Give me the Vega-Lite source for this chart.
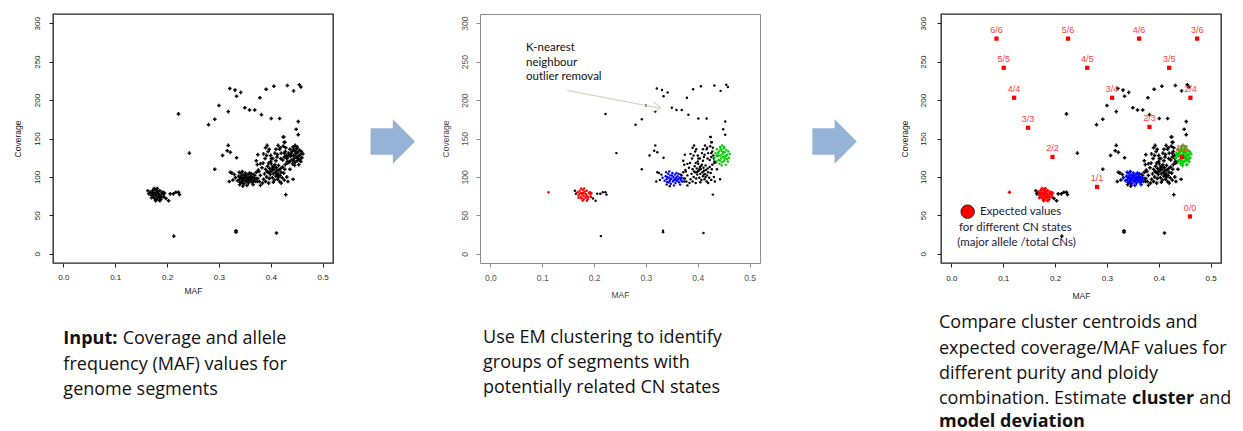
{
"$schema":"https://vega.github.io/schema/vega-lite/v6.json",
"padding":{"left":12,"top":13,"right":0,"bottom":0},
"autosize":{"type":"pad"},
"background":"white",
"spacing":0,
"bounds":"flush",
"config":{"view":{"stroke":null},"axis":{"grid":false,"domain":false,"labelFont":"Liberation Sans","titleFont":"Liberation Sans","titleFontWeight":"normal","labelFlush":false}},
"datasets":{
"pts":[
{"maf":0.168,"cov":80,"cl":"r"},{"maf":0.172,"cov":82,"cl":"r"},{"maf":0.175,"cov":79,"cl":"r"},{"maf":0.178,"cov":83,"cl":"r"},{"maf":0.182,"cov":81,"cl":"r"},{"maf":0.186,"cov":82,"cl":"r"},{"maf":0.19,"cov":79,"cl":"r"},{"maf":0.193,"cov":77,"cl":"r"},{"maf":0.17,"cov":76,"cl":"r"},{"maf":0.174,"cov":74,"cl":"r"},{"maf":0.177,"cov":77,"cl":"r"},{"maf":0.18,"cov":75,"cl":"r"},{"maf":0.183,"cov":78,"cl":"r"},{"maf":0.186,"cov":75,"cl":"r"},{"maf":0.189,"cov":74,"cl":"r"},{"maf":0.192,"cov":80,"cl":"r"},{"maf":0.176,"cov":72,"cl":"r"},{"maf":0.18,"cov":71,"cl":"r"},{"maf":0.184,"cov":73,"cl":"r"},{"maf":0.188,"cov":71,"cl":"r"},{"maf":0.172,"cov":78,"cl":"r"},{"maf":0.179,"cov":79,"cl":"r"},{"maf":0.185,"cov":77,"cl":"r"},{"maf":0.181,"cov":85,"cl":"r"},{"maf":0.175,"cov":85,"cl":"r"},{"maf":0.194,"cov":74,"cl":"r"},{"maf":0.178,"cov":69,"cl":"r"},{"maf":0.186,"cov":69,"cl":"r"},{"maf":0.17,"cov":73,"cl":"r"},{"maf":0.195,"cov":79,"cl":"r"},{"maf":0.112,"cov":80,"cl":"r","p1":0},
{"maf":0.163,"cov":82,"cl":"k"},{"maf":0.165,"cov":78,"cl":"k"},{"maf":0.198,"cov":72,"cl":"k"},{"maf":0.203,"cov":69,"cl":"k"},{"maf":0.206,"cov":78,"cl":"k"},{"maf":0.212,"cov":78,"cl":"k"},{"maf":0.217,"cov":80,"cl":"k"},{"maf":0.222,"cov":80,"cl":"k"},{"maf":0.224,"cov":77,"cl":"k"},{"maf":0.213,"cov":23,"cl":"k"},
{"maf":0.336,"cov":95,"cl":"b"},{"maf":0.338,"cov":101,"cl":"b"},{"maf":0.34,"cov":97,"cl":"b"},{"maf":0.341,"cov":93,"cl":"b"},{"maf":0.343,"cov":104,"cl":"b"},{"maf":0.344,"cov":99,"cl":"b"},{"maf":0.346,"cov":95,"cl":"b"},{"maf":0.347,"cov":102,"cl":"b"},{"maf":0.348,"cov":91,"cl":"b"},{"maf":0.349,"cov":98,"cl":"b"},{"maf":0.351,"cov":105,"cl":"b"},{"maf":0.352,"cov":94,"cl":"b"},{"maf":0.353,"cov":100,"cl":"b"},{"maf":0.355,"cov":97,"cl":"b"},{"maf":0.356,"cov":103,"cl":"b"},{"maf":0.357,"cov":92,"cl":"b"},{"maf":0.358,"cov":99,"cl":"b"},{"maf":0.36,"cov":95,"cl":"b"},{"maf":0.361,"cov":101,"cl":"b"},{"maf":0.362,"cov":97,"cl":"b"},{"maf":0.364,"cov":93,"cl":"b"},{"maf":0.365,"cov":99,"cl":"b"},{"maf":0.367,"cov":96,"cl":"b"},{"maf":0.369,"cov":102,"cl":"b"},{"maf":0.37,"cov":94,"cl":"b"},{"maf":0.345,"cov":107,"cl":"b"},{"maf":0.354,"cov":89,"cl":"b"},{"maf":0.339,"cov":106,"cl":"b"},{"maf":0.359,"cov":105,"cl":"b"},{"maf":0.366,"cov":90,"cl":"b"},{"maf":0.332,"cov":99,"cl":"b"},{"maf":0.372,"cov":98,"cl":"b"},{"maf":0.35,"cov":102,"cl":"b"},{"maf":0.347,"cov":97,"cl":"b"},{"maf":0.357,"cov":96,"cl":"b"},{"maf":0.344,"cov":93,"cl":"b"},{"maf":0.363,"cov":104,"cl":"b"},{"maf":0.353,"cov":95,"cl":"b"},{"maf":0.341,"cov":100,"cl":"b"},{"maf":0.368,"cov":99,"cl":"b"},
{"maf":0.322,"cov":106,"cl":"k"},{"maf":0.325,"cov":105,"cl":"k"},{"maf":0.32,"cov":94,"cl":"k"},{"maf":0.327,"cov":96,"cl":"k"},{"maf":0.33,"cov":103,"cl":"k"},{"maf":0.375,"cov":98,"cl":"k"},{"maf":0.378,"cov":94,"cl":"k"},{"maf":0.372,"cov":106,"cl":"k"},{"maf":0.34,"cov":90,"cl":"k"},{"maf":0.346,"cov":88,"cl":"k"},{"maf":0.38,"cov":102,"cl":"k"},{"maf":0.376,"cov":109,"cl":"k"},
{"maf":0.388,"cov":104,"cl":"k"},{"maf":0.39,"cov":110,"cl":"k"},{"maf":0.392,"cov":100,"cl":"k"},{"maf":0.394,"cov":114,"cl":"k"},{"maf":0.395,"cov":106,"cl":"k"},{"maf":0.397,"cov":98,"cl":"k"},{"maf":0.398,"cov":111,"cl":"k"},{"maf":0.399,"cov":103,"cl":"k"},{"maf":0.401,"cov":117,"cl":"k"},{"maf":0.402,"cov":108,"cl":"k"},{"maf":0.403,"cov":99,"cl":"k"},{"maf":0.404,"cov":113,"cl":"k"},{"maf":0.405,"cov":104,"cl":"k"},{"maf":0.406,"cov":110,"cl":"k"},{"maf":0.407,"cov":96,"cl":"k"},{"maf":0.408,"cov":116,"cl":"k"},{"maf":0.409,"cov":106,"cl":"k"},{"maf":0.41,"cov":101,"cl":"k"},{"maf":0.411,"cov":112,"cl":"k"},{"maf":0.412,"cov":108,"cl":"k"},{"maf":0.413,"cov":97,"cl":"k"},{"maf":0.414,"cov":104,"cl":"k"},{"maf":0.415,"cov":115,"cl":"k"},{"maf":0.416,"cov":109,"cl":"k"},{"maf":0.418,"cov":102,"cl":"k"},{"maf":0.419,"cov":111,"cl":"k"},{"maf":0.42,"cov":106,"cl":"k"},{"maf":0.422,"cov":99,"cl":"k"},{"maf":0.423,"cov":113,"cl":"k"},{"maf":0.425,"cov":105,"cl":"k"},{"maf":0.4,"cov":120,"cl":"k"},{"maf":0.41,"cov":121,"cl":"k"},{"maf":0.396,"cov":118,"cl":"k"},{"maf":0.386,"cov":97,"cl":"k"},{"maf":0.427,"cov":110,"cl":"k"},{"maf":0.393,"cov":107,"cl":"k"},{"maf":0.417,"cov":94,"cl":"k"},{"maf":0.405,"cov":93,"cl":"k"},{"maf":0.4,"cov":107,"cl":"k"},{"maf":0.412,"cov":103,"cl":"k"},{"maf":0.406,"cov":114,"cl":"k"},{"maf":0.398,"cov":106,"cl":"k"},{"maf":0.415,"cov":100,"cl":"k"},{"maf":0.403,"cov":110,"cl":"k"},
{"maf":0.383,"cov":112,"cl":"k"},{"maf":0.385,"cov":118,"cl":"k"},{"maf":0.389,"cov":124,"cl":"k"},{"maf":0.392,"cov":128,"cl":"k"},{"maf":0.395,"cov":133,"cl":"k"},{"maf":0.39,"cov":138,"cl":"k"},{"maf":0.393,"cov":141,"cl":"k"},{"maf":0.397,"cov":136,"cl":"k"},{"maf":0.4,"cov":128,"cl":"k"},{"maf":0.404,"cov":124,"cl":"k"},{"maf":0.408,"cov":131,"cl":"k"},{"maf":0.412,"cov":126,"cl":"k"},{"maf":0.414,"cov":141,"cl":"k"},{"maf":0.417,"cov":136,"cl":"k"},{"maf":0.42,"cov":131,"cl":"k"},{"maf":0.423,"cov":122,"cl":"k"},{"maf":0.426,"cov":126,"cl":"k"},{"maf":0.428,"cov":133,"cl":"k"},{"maf":0.43,"cov":128,"cl":"k"},{"maf":0.432,"cov":118,"cl":"k"},{"maf":0.428,"cov":116,"cl":"k"},{"maf":0.431,"cov":100,"cl":"k"},{"maf":0.433,"cov":94,"cl":"k"},{"maf":0.426,"cov":96,"cl":"k"},{"maf":0.384,"cov":92,"cl":"k"},{"maf":0.38,"cov":89,"cl":"k"},{"maf":0.396,"cov":92,"cl":"k"},{"maf":0.42,"cov":92,"cl":"k"},{"maf":0.437,"cov":110,"cl":"k"},{"maf":0.38,"cov":117,"cl":"k"},{"maf":0.375,"cov":129,"cl":"k"},{"maf":0.372,"cov":121,"cl":"k"},{"maf":0.386,"cov":130,"cl":"k"},{"maf":0.41,"cov":136,"cl":"k"},{"maf":0.424,"cov":140,"cl":"k"},{"maf":0.427,"cov":145,"cl":"k"},{"maf":0.425,"cov":152,"cl":"k"},{"maf":0.418,"cov":138,"cl":"k"},{"maf":0.429,"cov":138,"cl":"k"},{"maf":0.431,"cov":124,"cl":"k"},{"maf":0.435,"cov":119,"cl":"k"},
{"maf":0.432,"cov":125,"cl":"g"},{"maf":0.434,"cov":131,"cl":"g"},{"maf":0.436,"cov":120,"cl":"g"},{"maf":0.437,"cov":136,"cl":"g"},{"maf":0.438,"cov":127,"cl":"g"},{"maf":0.44,"cov":122,"cl":"g"},{"maf":0.441,"cov":133,"cl":"g"},{"maf":0.442,"cov":117,"cl":"g"},{"maf":0.443,"cov":139,"cl":"g"},{"maf":0.444,"cov":128,"cl":"g"},{"maf":0.445,"cov":124,"cl":"g"},{"maf":0.446,"cov":134,"cl":"g"},{"maf":0.447,"cov":119,"cl":"g"},{"maf":0.448,"cov":130,"cl":"g"},{"maf":0.449,"cov":126,"cl":"g"},{"maf":0.45,"cov":137,"cl":"g"},{"maf":0.451,"cov":121,"cl":"g"},{"maf":0.452,"cov":132,"cl":"g"},{"maf":0.453,"cov":127,"cl":"g"},{"maf":0.454,"cov":116,"cl":"g"},{"maf":0.455,"cov":135,"cl":"g"},{"maf":0.456,"cov":123,"cl":"g"},{"maf":0.457,"cov":129,"cl":"g"},{"maf":0.459,"cov":133,"cl":"g"},{"maf":0.46,"cov":125,"cl":"g"},{"maf":0.462,"cov":130,"cl":"g"},{"maf":0.447,"cov":141,"cl":"g"},{"maf":0.44,"cov":128,"cl":"g"},{"maf":0.452,"cov":124,"cl":"g"},{"maf":0.444,"cov":136,"cl":"g"},{"maf":0.436,"cov":128,"cl":"g"},{"maf":0.458,"cov":120,"cl":"g"},{"maf":0.443,"cov":121,"cl":"g"},{"maf":0.449,"cov":132,"cl":"g"},{"maf":0.455,"cov":128,"cl":"g"},{"maf":0.439,"cov":131,"cl":"g"},{"maf":0.446,"cov":115,"cl":"g"},{"maf":0.451,"cov":139,"cl":"g"},
{"maf":0.222,"cov":182,"cl":"k"},{"maf":0.243,"cov":131,"cl":"k"},{"maf":0.28,"cov":168,"cl":"k"},{"maf":0.292,"cov":175,"cl":"k"},{"maf":0.3,"cov":193,"cl":"k"},{"maf":0.292,"cov":110,"cl":"k"},{"maf":0.307,"cov":128,"cl":"k"},{"maf":0.318,"cov":185,"cl":"k"},{"maf":0.321,"cov":215,"cl":"k"},{"maf":0.331,"cov":213,"cl":"k"},{"maf":0.334,"cov":205,"cl":"k"},{"maf":0.342,"cov":210,"cl":"k"},{"maf":0.35,"cov":190,"cl":"k"},{"maf":0.359,"cov":187,"cl":"k"},{"maf":0.369,"cov":187,"cl":"k"},{"maf":0.382,"cov":181,"cl":"k"},{"maf":0.379,"cov":203,"cl":"k"},{"maf":0.391,"cov":214,"cl":"k"},{"maf":0.406,"cov":218,"cl":"k"},{"maf":0.401,"cov":176,"cl":"k"},{"maf":0.417,"cov":176,"cl":"k"},{"maf":0.432,"cov":219,"cl":"k"},{"maf":0.444,"cov":212,"cl":"k"},{"maf":0.455,"cov":220,"cl":"k"},{"maf":0.458,"cov":217,"cl":"k"},{"maf":0.453,"cov":172,"cl":"k"},{"maf":0.449,"cov":162,"cl":"k"},{"maf":0.453,"cov":155,"cl":"k"},{"maf":0.424,"cov":152,"cl":"k"},{"maf":0.426,"cov":145,"cl":"k"},{"maf":0.318,"cov":141,"cl":"k"},{"maf":0.316,"cov":134,"cl":"k"},{"maf":0.322,"cov":132,"cl":"k"},{"maf":0.334,"cov":125,"cl":"k"},{"maf":0.429,"cov":77,"cl":"k"},{"maf":0.443,"cov":97,"cl":"k"},{"maf":0.333,"cov":28,"cl":"k"},{"maf":0.333,"cov":30,"cl":"k"},{"maf":0.411,"cov":27,"cl":"k"},{"maf":0.374,"cov":116,"cl":"k"},{"maf":0.367,"cov":103,"cl":"k"},{"maf":0.377,"cov":107,"cl":"k"},{"maf":0.39,"cov":94,"cl":"k"},{"maf":0.374,"cov":94,"cl":"k"},{"maf":0.401,"cov":124,"cl":"k"},{"maf":0.413,"cov":129,"cl":"k"},{"maf":0.426,"cov":131,"cl":"k"},{"maf":0.419,"cov":124,"cl":"k"},{"maf":0.432,"cov":120,"cl":"k"}
],
"exp":[
{"maf":0.087,"cov":280,"lab":"6/6"},{"maf":0.225,"cov":280,"lab":"5/6"},{"maf":0.362,"cov":280,"lab":"4/6"},{"maf":0.474,"cov":280,"lab":"3/6"},
{"maf":0.101,"cov":242,"lab":"5/5"},{"maf":0.262,"cov":242,"lab":"4/5"},{"maf":0.42,"cov":242,"lab":"3/5"},
{"maf":0.121,"cov":203,"lab":"4/4"},{"maf":0.31,"cov":203,"lab":"3/4"},{"maf":0.461,"cov":203,"lab":"2/4"},
{"maf":0.148,"cov":164,"lab":"3/3"},{"maf":0.382,"cov":165,"lab":"2/3"},
{"maf":0.195,"cov":126,"lab":"2/2"},{"maf":0.445,"cov":126,"lab":"1/2"},
{"maf":0.281,"cov":87,"lab":"1/1"},{"maf":0.46,"cov":48.5,"lab":"0/0"}
],
"txt":[
{"p":1,"b":1,"t":"Input:","maf":0.0,"cov":-117.4},
{"p":1,"b":0,"t":"Coverage and allele","maf":0.1144,"cov":-117.4},
{"p":1,"b":0,"t":"frequency (MAF) values for","maf":0.0,"cov":-151.2},
{"p":1,"b":0,"t":"genome segments","maf":0.0,"cov":-183.8},
{"p":2,"b":0,"t":"Use EM clustering to identify","maf":-0.0142,"cov":-116.1},
{"p":2,"b":0,"t":"groups of segments with","maf":-0.0142,"cov":-148.6},
{"p":2,"b":0,"t":"potentially related CN states","maf":-0.0142,"cov":-181.2},
{"p":3,"b":0,"t":"Compare cluster centroids and","maf":-0.0239,"cov":-97.0},
{"p":3,"b":0,"t":"expected  coverage/MAF values for","maf":-0.0239,"cov":-130.8},
{"p":3,"b":0,"t":"different purity and ploidy","maf":-0.0239,"cov":-163.0},
{"p":3,"b":0,"t":"combination. Estimate","maf":-0.0239,"cov":-195.1},
{"p":3,"b":1,"t":"cluster","maf":0.3484,"cov":-195.1},
{"p":3,"b":0,"t":"and","maf":0.4782,"cov":-195.1},
{"p":3,"b":1,"t":"model deviation","maf":-0.0239,"cov":-225.5}
],
"ann":[
{"t":"K-nearest","maf":0.0687,"cov":268.1},
{"t":"neighbour","maf":0.0687,"cov":248.6},
{"t":"outlier removal","maf":0.0687,"cov":230.0}
],
"arr":[
{"maf":0.1478,"cov":212.7,"maf2":0.3292,"cov2":189.3},
{"maf":0.3146,"cov":197.8,"maf2":0.3292,"cov2":189.3},
{"maf":0.3111,"cov":185.0,"maf2":0.3292,"cov2":189.3}
],
"leg":[
{"t":"Expected values","maf":0.0552,"cov":54.8},
{"t":"for different CN states","maf":0.0147,"cov":33.1},
{"t":"(major allele /total CNs)","maf":0.0114,"cov":13.6}
],
"legdot":[{"maf":0.0314,"cov":54.8}]
},
"hconcat":[
{
"width":280,"height":249,
"view":{"stroke":"#222","strokeWidth":1.3},
"encoding":{
"x":{"field":"maf","type":"quantitative","scale":{"domain":[-0.02,0.52],"nice":false,"zero":false},
"axis":{"values":[0,0.1,0.2,0.3,0.4,0.5],"format":".1f","tickSize":4,"tickColor":"#222","labelFontSize":8,"labelColor":"#222","labelPadding":6,"title":"MAF","titleFontSize":8.5,"titleColor":"#222","titlePadding":5}},
"y":{"field":"cov","type":"quantitative","scale":{"domain":[-12,312],"nice":false,"zero":false},
"axis":{"values":[0,50,100,150,200,250,300],"tickSize":4,"tickColor":"#222","labelFontSize":8,"labelColor":"#222","labelPadding":8,"labelAngle":270,"labelAlign":"center","labelBaseline":"bottom","title":"Coverage","titleFontSize":8.5,"titleColor":"#222","titlePadding":11}}
},
"layer":[
{"data":{"name":"pts"},"transform":[{"filter":"datum.p1 !== 0"}],"mark":{"type":"point","shape":"cross","filled":true,"size":13,"color":"#000","opacity":1}},
{"data":{"name":"txt"},"transform":[{"filter":"datum.p==1 && datum.b==0"}],"mark":{"type":"text","align":"left","baseline":"alphabetic","font":"Open Sans","fontSize":18,"color":"#111"},"encoding":{"text":{"field":"t"}}},
{"data":{"name":"txt"},"transform":[{"filter":"datum.p==1 && datum.b==1"}],"mark":{"type":"text","align":"left","baseline":"alphabetic","font":"Open Sans","fontSize":18,"fontWeight":"bold","color":"#111"},"encoding":{"text":{"field":"t"}}}
]
},
{
"width":147,"height":249,
"data":{"values":[{"ax":0.407,"ay":0.488}]},
"mark":{"type":"point","shape":"M-1,-0.6L0,-0.6L0,-1L1,0L0,1L0,0.6L-1,0.6Z","filled":true,"size":1980,"color":"#95B3D7","opacity":1},
"encoding":{
"x":{"field":"ax","type":"quantitative","scale":{"domain":[0,1]},"axis":null},
"y":{"field":"ay","type":"quantitative","scale":{"domain":[0,1]},"axis":null}
}
},
{
"width":280,"height":249,
"view":{"stroke":"#8c8c8c","strokeWidth":1},
"encoding":{
"x":{"field":"maf","type":"quantitative","scale":{"domain":[-0.02,0.52],"nice":false,"zero":false},
"axis":{"values":[0,0.1,0.2,0.3,0.4,0.5],"format":".1f","tickSize":4,"tickColor":"#8c8c8c","labelFontSize":8.5,"labelColor":"#555","labelPadding":6,"title":"MAF","titleFontSize":8.5,"titleColor":"#444","titlePadding":9}},
"y":{"field":"cov","type":"quantitative","scale":{"domain":[-12,312],"nice":false,"zero":false},
"axis":{"values":[0,50,100,150,200,250,300],"tickSize":4,"tickColor":"#8c8c8c","labelFontSize":8.5,"labelColor":"#555","labelPadding":7,"labelAngle":270,"labelAlign":"center","labelBaseline":"bottom","title":"Coverage","titleFontSize":8.5,"titleColor":"#444","titlePadding":10}}
},
"layer":[
{"data":{"name":"pts"},"mark":{"type":"circle","size":6,"opacity":1},
"encoding":{"color":{"field":"cl","type":"nominal","scale":{"domain":["r","b","k","g"],"range":["#FF0000","#0000FF","#000000","#00CD00"]},"legend":null}}},
{"data":{"name":"arr"},"mark":{"type":"rule","color":"#d6d6c8","strokeWidth":1.2},"encoding":{"x2":{"field":"maf2"},"y2":{"field":"cov2"}}},
{"data":{"name":"ann"},"mark":{"type":"text","align":"left","baseline":"middle","font":"Lato","fontSize":11.5,"color":"#111"},"encoding":{"text":{"field":"t"}}},
{"data":{"name":"txt"},"transform":[{"filter":"datum.p==2"}],"mark":{"type":"text","align":"left","baseline":"alphabetic","font":"Open Sans","fontSize":18,"color":"#111"},"encoding":{"text":{"field":"t"}}}
]
},
{
"width":181,"height":249,
"data":{"values":[{"ax":0.412,"ay":0.488}]},
"mark":{"type":"point","shape":"M-1,-0.6L0,-0.6L0,-1L1,0L0,1L0,0.6L-1,0.6Z","filled":true,"size":1980,"color":"#95B3D7","opacity":1},
"encoding":{
"x":{"field":"ax","type":"quantitative","scale":{"domain":[0,1]},"axis":null},
"y":{"field":"ay","type":"quantitative","scale":{"domain":[0,1]},"axis":null}
}
},
{
"width":280,"height":249,
"view":{"stroke":"#222","strokeWidth":1.3},
"encoding":{
"x":{"field":"maf","type":"quantitative","scale":{"domain":[-0.02,0.52],"nice":false,"zero":false},
"axis":{"values":[0,0.1,0.2,0.3,0.4,0.5],"format":".1f","tickSize":4,"tickColor":"#222","labelFontSize":8,"labelColor":"#222","labelPadding":7,"title":"MAF","titleFontSize":8.5,"titleColor":"#222","titlePadding":9}},
"y":{"field":"cov","type":"quantitative","scale":{"domain":[-12,312],"nice":false,"zero":false},
"axis":{"values":[0,50,100,150,200,250,300],"tickSize":4,"tickColor":"#222","labelFontSize":8,"labelColor":"#222","labelPadding":10,"labelAngle":270,"labelAlign":"center","labelBaseline":"bottom","title":"Coverage","titleFontSize":8.5,"titleColor":"#222","titlePadding":10}}
},
"layer":[
{"data":{"name":"pts"},"mark":{"type":"point","shape":"cross","filled":true,"size":13,"opacity":1},
"encoding":{"color":{"field":"cl","type":"nominal","scale":{"domain":["r","b","k","g"],"range":["#FF0000","#0000FF","#000000","#00CD00"]},"legend":null}}},
{"data":{"name":"exp"},"mark":{"type":"square","size":18,"color":"#FF0000","opacity":1}},
{"data":{"name":"exp"},"mark":{"type":"text","baseline":"bottom","dy":-4,"font":"Liberation Sans","fontSize":9,"color":"#FF4040"},"encoding":{"text":{"field":"lab"}}},
{"data":{"name":"legdot"},"mark":{"type":"circle","size":180,"color":"#FF0000","stroke":"#222","strokeWidth":1,"opacity":1}},
{"data":{"name":"leg"},"mark":{"type":"text","align":"left","baseline":"middle","font":"Lato","fontSize":11.5,"color":"#1a1a3a"},"encoding":{"text":{"field":"t"}}},
{"data":{"name":"txt"},"transform":[{"filter":"datum.p==3 && datum.b==0"}],"mark":{"type":"text","align":"left","baseline":"alphabetic","font":"Open Sans","fontSize":18,"color":"#111"},"encoding":{"text":{"field":"t"}}},
{"data":{"name":"txt"},"transform":[{"filter":"datum.p==3 && datum.b==1"}],"mark":{"type":"text","align":"left","baseline":"alphabetic","font":"Open Sans","fontSize":18,"fontWeight":"bold","color":"#111"},"encoding":{"text":{"field":"t"}}}
]
}
]
}
